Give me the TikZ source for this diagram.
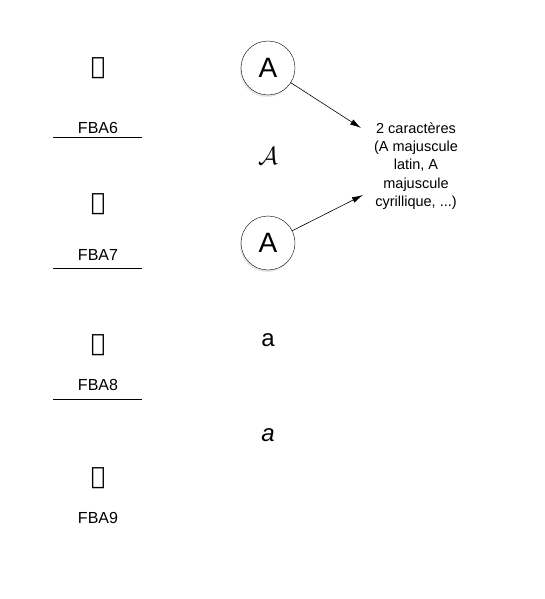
\documentclass[tikz,border=0pt]{standalone}
\usepackage{fontspec}
\setmainfont{Liberation Sans}
\newfontfamily\arabicfont[Script=Arabic]{DejaVu Sans}
\TeXXeTstate=1
\usetikzlibrary{arrows.meta,shadows}

\begin{document}
\begin{tikzpicture}[x=1pt,y=-1pt,
        glyph/.style={font=\arabicfont\fontsize{24}{24}\selectfont},
        code/.style={font=\fontsize{16}{16}\selectfont},
        letter/.style={circle,draw,fill=white,minimum size=54pt,inner sep=0pt,
            font=\fontsize{28}{28}\selectfont,
            drop shadow={shadow xshift=-1pt,shadow yshift=-2pt,opacity=0.2,fill=gray}},
        plain/.style={font=\fontsize{24}{24}\selectfont},
        note/.style={align=center,font=\fontsize{14.5}{18.3}\selectfont},
        link/.style={-{Latex[length=11pt,width=6pt]},line width=0.6pt}]
    \useasboundingbox (0,0) rectangle (544,599);
        % code points
        \node[glyph](g6) at (98,68)  {\beginR ^^^^fba6\endR};
        \node[code](c6)  at (98,128) {FBA6};
        \node[glyph](g7) at (98,204) {\beginR ^^^^fba7\endR};
        \node[code](c7)  at (98,255) {FBA7};
        \node[glyph](g8) at (98,345) {\beginR ^^^^fba8\endR};
        \node[code](c8)  at (98,385) {FBA8};
        \node[glyph](g9) at (98,478) {\beginR ^^^^fba9\endR};
        \node[code](c9)  at (98,518) {FBA9};
        \draw[line width=0.6pt] (53,137) -- (142,137);
        \draw[line width=0.6pt] (53,268) -- (142,268);
        \draw[line width=0.6pt] (53,399) -- (142,399);
        % characters
        \node[letter](A1) at (268,68)  {A};
        \node[plain](A2)  at (268,156) {$\mathcal{A}$};
        \node[letter](A3) at (268,243) {А};
        \node[plain](a1)  at (268,340) {a};
        \node[plain](a2)  at (268,435) {$\mathit{a}$};
        % note
        \node[note](N) at (416,166)
            {2 caractères\\(A majuscule\\latin, A\\majuscule\\cyrillique, ...)};
        \coordinate (n1) at (361,128);
        \coordinate (n2) at (363,195);
        \path
            (A1) edge [link] (n1)
            (A3) edge [link] (n2)
            ;
    \end{tikzpicture}
\end{document}
